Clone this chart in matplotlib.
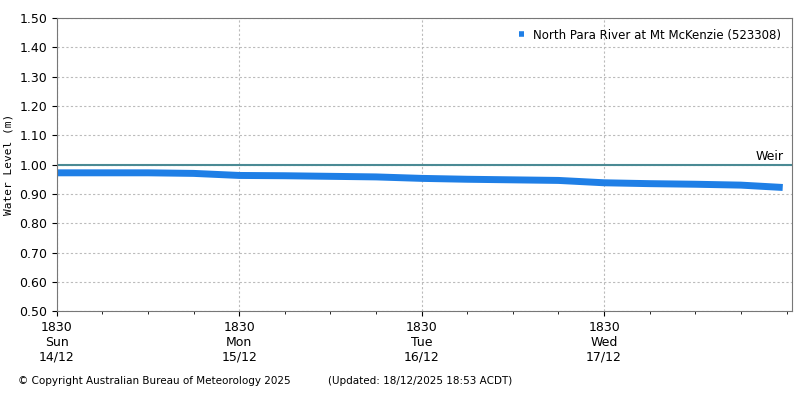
import matplotlib.pyplot as plt
from matplotlib.ticker import MultipleLocator

# hours since 1830 Sun 14/12
hours = [0, 6, 12, 18, 24, 30, 36, 42, 48, 54, 60, 66, 72, 78, 84, 90, 95.5]
level = [0.972, 0.972, 0.972, 0.970, 0.963, 0.962, 0.960, 0.958, 0.953,
         0.950, 0.948, 0.946, 0.938, 0.935, 0.933, 0.930, 0.922]
tick_labels = ['1830\nSun\n14/12', '1830\nMon\n15/12', '1830\nTue\n16/12', '1830\nWed\n17/12']
weir = 1.0

fig = plt.figure(figsize=(8, 4), dpi=100)
ax = fig.add_axes([0.071, 0.222, 0.919, 0.733])
days = [h / 24 for h in hours]
ax.plot(days, level, color='#1f7fe6', lw=5, solid_capstyle='butt',
        label='North Para River at Mt McKenzie (523308)')
ax.axhline(weir, color='#4a8a94', lw=1.5)
ax.text(3.83, weir + 0.005, 'Weir', fontsize=9, va='bottom')

ax.set_xlim(0, 4.03)
ax.set_ylim(0.5, 1.5)
ax.set_xticks(range(4))
ax.set_xticklabels(tick_labels, fontsize=9)
ax.xaxis.set_minor_locator(MultipleLocator(0.25))
ax.yaxis.set_major_locator(MultipleLocator(0.1))
ax.yaxis.set_major_formatter(plt.FormatStrFormatter('%.2f'))
ax.tick_params(axis='y', labelsize=9)
ax.grid(True, color='#bbbbbb', ls=(0, (2, 2)), lw=0.8)
for s in ax.spines.values():
    s.set_color('#777777')
ax.set_ylabel('Water Level (m)', fontsize=8, family='DejaVu Sans Mono')
leg = ax.legend(loc='upper right', frameon=False, fontsize=8.5, handlelength=0.4,
                markerscale=1)
for h in leg.legend_handles:
    h.set_linewidth(4)

fig.text(0.022, 0.04, '© Copyright Australian Bureau of Meteorology 2025', fontsize=7.5)
fig.text(0.41, 0.04, '(Updated: 18/12/2025 18:53 ACDT)', fontsize=7.5)
fig.savefig('out.png')
